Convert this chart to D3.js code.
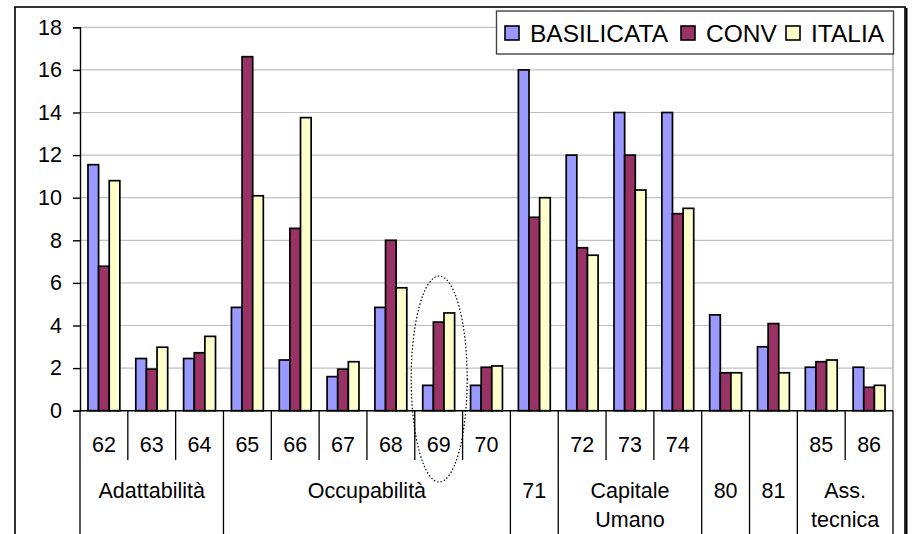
<!DOCTYPE html>
<html>
<head>
<meta charset="utf-8">
<script src="https://cdn.jsdelivr.net/npm/d3@7"></script>
<style>
  body { margin: 0; background: #fff; }
  svg { display: block; font-family: "Liberation Sans", Arial, sans-serif; }
</style>
</head>
<body>
<svg width="912" height="534"></svg>
<script>
const categories = ["62","63","64","65","66","67","68","69","70","71","72","73","74","80","81","85","86"];
const seriesNames = ["BASILICATA","CONV","ITALIA"];
const basilicata = [11.55, 2.45, 2.45, 4.85, 2.38, 1.6, 4.85, 1.19, 1.19, 16.0, 12.0, 14.0, 14.0, 4.5, 3.0, 2.04, 2.04];
const conv = [6.78, 1.95, 2.72, 16.62, 8.56, 1.95, 8.0, 4.16, 2.04, 9.08, 7.65, 12.0, 9.25, 1.78, 4.09, 2.3, 1.1];
const italia = [10.8, 2.98, 3.49, 10.09, 13.76, 2.3, 5.77, 4.59, 2.1, 10.0, 7.3, 10.36, 9.5, 1.78, 1.78, 2.38, 1.19];
const groupNames = [["Adattabilità"], ["Occupabilità"], ["71"], ["Capitale", "Umano"], ["80"], ["81"], ["Ass.", "tecnica"]];
const groupSizes = [3, 6, 1, 3, 1, 1, 2];
const yTicks = [0, 2, 4, 6, 8, 10, 12, 14, 16, 18];
const highlighted = "69";

const colors = ["#9999FF", "#993366", "#FFFFCC"];
const svg = d3.select("svg");
const width = 912, height = 534;

const plotLeft = 80, plotRight = 893, plotTop = 27.3, plotBottom = 410.7;

const x = d3.scaleBand().domain(categories).range([plotLeft, plotRight]).padding(0);
const xs = d3.scaleBand().domain(seriesNames).range([0, x.bandwidth()])
  .paddingInner(0).paddingOuter(0.75);
const y = d3.scaleLinear().domain([0, 18]).range([plotBottom, plotTop]);

// outer frame
svg.append("rect")
  .attr("x", 15).attr("y", 7).attr("width", 890).attr("height", 540)
  .attr("fill", "#fff").attr("stroke", "#000").attr("stroke-width", 1.6);
svg.append("line")
  .attr("x1", 906.5).attr("x2", 906.5).attr("y1", 8).attr("y2", height)
  .attr("stroke", "#000").attr("stroke-width", 2);

// gridlines
svg.append("g").selectAll("line").data(yTicks.filter(d => d > 0)).enter()
  .append("line")
  .attr("x1", plotLeft).attr("x2", plotRight)
  .attr("y1", d => y(d)).attr("y2", d => y(d))
  .attr("stroke", "#c0c0c0").attr("stroke-width", 1.2);

// plot right border
svg.append("line")
  .attr("x1", plotRight).attr("x2", plotRight).attr("y1", plotTop).attr("y2", plotBottom)
  .attr("stroke", "#a0a0a0").attr("stroke-width", 1.2);

// bars
const data = categories.map((c, i) => ({
  cat: c,
  vals: [basilicata[i], conv[i], italia[i]]
}));

const groups = svg.append("g").selectAll("g").data(data).enter()
  .append("g")
  .attr("transform", d => `translate(${x(d.cat)},0)`);

groups.selectAll("rect")
  .data(d => d.vals.map((v, j) => ({ key: seriesNames[j], v: v, j: j })))
  .enter().append("rect")
  .attr("x", d => xs(d.key))
  .attr("width", xs.bandwidth())
  .attr("y", d => y(d.v))
  .attr("height", d => y(0) - y(d.v))
  .attr("fill", d => colors[d.j])
  .attr("stroke", "#000")
  .attr("stroke-width", 1.7);

// y axis
const yAxis = d3.axisLeft(y).tickValues(yTicks).tickSize(7).tickPadding(11);
const yg = svg.append("g").attr("transform", `translate(${plotLeft},0)`).call(yAxis);
yg.select(".domain").attr("stroke", "#000").attr("stroke-width", 1.4);
yg.selectAll(".tick line").attr("stroke", "#000").attr("stroke-width", 1.4);
yg.selectAll(".tick text")
  .attr("font-size", 21.5).attr("fill", "#000")
  .attr("font-family", "Liberation Sans, Arial, sans-serif");

// x axis line
svg.append("line")
  .attr("x1", plotLeft).attr("x2", plotRight).attr("y1", plotBottom).attr("y2", plotBottom)
  .attr("stroke", "#000").attr("stroke-width", 1.6);

// group boundaries
let bounds = [];
let idx = 0;
groupSizes.forEach((s, gi) => {
  bounds.push({ start: idx, end: idx + s, gi: gi });
  idx += s;
});
const edgeX = k => k < categories.length ? x(categories[k]) : plotRight;

const axisG = svg.append("g").attr("font-size", 21.5).attr("fill", "#000");

// long separators at group edges
const longEdges = [0].concat(bounds.map(b => b.end));
axisG.selectAll("line.long").data(longEdges).enter()
  .append("line").attr("class", "long")
  .attr("x1", d => edgeX(d)).attr("x2", d => edgeX(d))
  .attr("y1", plotBottom).attr("y2", height)
  .attr("stroke", "#000").attr("stroke-width", 1.3);

// short separators inside groups
const shortEdges = [];
bounds.forEach(b => {
  for (let k = b.start + 1; k < b.end; k++) shortEdges.push(k);
});
axisG.selectAll("line.short").data(shortEdges).enter()
  .append("line").attr("class", "short")
  .attr("x1", d => edgeX(d)).attr("x2", d => edgeX(d))
  .attr("y1", plotBottom).attr("y2", 460)
  .attr("stroke", "#000").attr("stroke-width", 1.3);

// level-1 labels (skip single-category groups)
const lvl1 = [];
bounds.forEach(b => {
  if (b.end - b.start > 1) {
    for (let k = b.start; k < b.end; k++) lvl1.push(categories[k]);
  }
});
axisG.selectAll("text.l1").data(lvl1).enter()
  .append("text").attr("class", "l1")
  .attr("x", d => x(d) + x.bandwidth() / 2)
  .attr("y", 451.5)
  .attr("text-anchor", "middle")
  .text(d => d);

// level-2 labels
bounds.forEach(b => {
  const cx = (edgeX(b.start) + edgeX(b.end)) / 2;
  const t = axisG.append("text")
    .attr("x", cx).attr("y", 498)
    .attr("text-anchor", "middle");
  groupNames[b.gi].forEach((line, li) => {
    t.append("tspan").attr("x", cx).attr("dy", li === 0 ? 0 : 28.5).text(line);
  });
});

// dotted ellipse around highlighted category
svg.append("ellipse")
  .attr("cx", x(highlighted) + x.bandwidth() / 2 + 0.5)
  .attr("cy", 379)
  .attr("rx", 28)
  .attr("ry", 103)
  .attr("fill", "none")
  .attr("stroke", "#000")
  .attr("stroke-width", 1.2)
  .attr("stroke-dasharray", "1.5,2");

// legend
const legend = svg.append("g");
legend.append("rect")
  .attr("x", 496.5).attr("y", 11).attr("width", 397).attr("height", 43)
  .attr("fill", "#fff").attr("stroke", "#444").attr("stroke-width", 1.4);
const legX = [505, 681, 786];
seriesNames.forEach((n, i) => {
  legend.append("rect")
    .attr("x", legX[i]).attr("y", 26).attr("width", 14).attr("height", 14)
    .attr("fill", colors[i]).attr("stroke", "#000").attr("stroke-width", 1.6);
  legend.append("text")
    .attr("x", legX[i] + 25).attr("y", 41.5)
    .attr("font-size", 24.5).attr("fill", "#000")
    .text(n);
});
</script>
</body>
</html>
